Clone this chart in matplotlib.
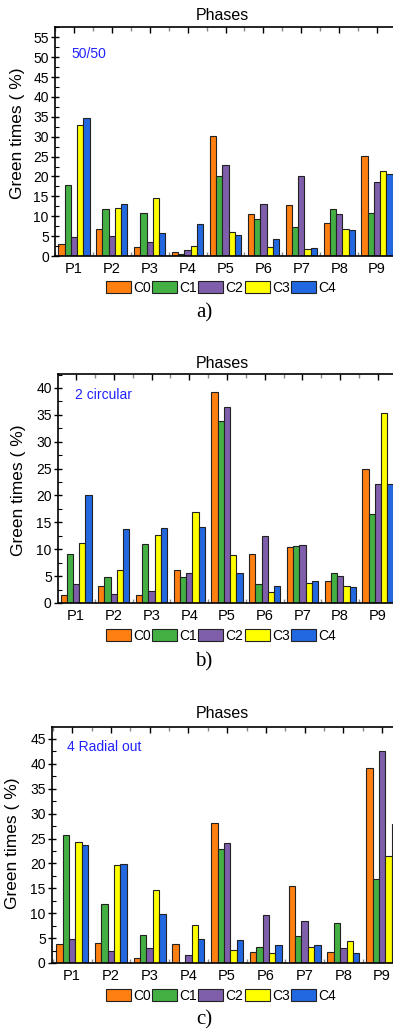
import matplotlib
matplotlib.use("Agg")
import matplotlib.pyplot as plt
import numpy as np
from matplotlib.patches import Patch
from matplotlib.ticker import MultipleLocator, FixedLocator

plt.rcParams['font.family'] = ['Liberation Sans', 'DejaVu Sans']

phases = ["P1", "P2", "P3", "P4", "P5", "P6", "P7", "P8", "P9"]
series = ["C0", "C1", "C2", "C3", "C4"]
colors = ["#ff8010", "#44b044", "#7f5fab", "#ffff00", "#2268e0"]

# green times (%) per scenario, rows = C0..C4, cols = P1..P9
a_vals = [
    [3.0, 6.8, 2.3, 1.0, 30.2, 10.5, 12.8, 8.3, 25.2],
    [17.8, 11.8, 10.8, 0.6, 20.1, 9.3, 7.3, 11.8, 10.8],
    [4.7, 5.0, 3.5, 1.6, 23.0, 13.1, 20.1, 10.5, 18.6],
    [32.9, 12.0, 14.5, 2.6, 6.0, 2.2, 1.7, 6.8, 21.5],
    [34.6, 13.0, 5.8, 8.1, 5.3, 4.3, 2.0, 6.6, 20.6],
]
b_vals = [
    [1.4, 3.1, 1.4, 6.2, 39.3, 9.1, 10.5, 4.0, 25.0],
    [9.2, 4.9, 11.0, 4.9, 33.9, 3.5, 10.6, 5.5, 16.5],
    [3.6, 1.7, 2.2, 5.6, 36.4, 12.5, 10.8, 5.0, 22.2],
    [11.2, 6.2, 12.7, 16.9, 9.0, 2.1, 3.7, 3.1, 35.3],
    [20.1, 13.7, 13.9, 14.2, 5.6, 3.2, 4.1, 3.0, 22.2],
]
c_vals = [
    [3.8, 4.1, 1.1, 3.8, 28.2, 2.2, 15.4, 2.2, 39.1],
    [25.8, 11.8, 5.7, 0.0, 22.9, 3.3, 5.4, 8.0, 16.9],
    [4.9, 2.5, 3.0, 1.7, 24.1, 9.6, 8.5, 3.0, 42.6],
    [24.3, 19.6, 14.7, 7.6, 2.6, 2.1, 3.2, 4.4, 21.4],
    [23.6, 19.9, 9.8, 4.8, 4.6, 3.7, 3.7, 2.0, 28.0],
]

W, H = 393, 1033
fig = plt.figure(figsize=(W / 100, H / 100), dpi=100)

# layout in pixels: left, top, bottom of axes, xlim, ymax, scenario text pos,
# title y, legend y, tag y, ylabel x/y
panels = [
    (a_vals, "50/50", "a)", 55, 27, 256, (0.5, 9.42), 57.6, (0.05, 0.88), 15, 288, 313, 18, 133),
    (b_vals, "2 circular", "b)", 58, 374, 603, (0.52, 9.40), 42.6, (0.05, 0.908), 363, 636, 662, 19, 490),
    (c_vals, "4 Radial out", "c)", 52, 727, 963, (0.48, 9.28), 47.4, (0.044, 0.915), 713, 996, 1020, 13, 843),
]

bw = 0.165
x = np.arange(1, 10)

for vals, name, tag, left, top, bot, xl, ymax, tpos, ty, ly, tagy, labx, laby in panels:
    ax = fig.add_axes([left / W, 1 - bot / H, (W - left) / W, (bot - top) / H])
    for i, s in enumerate(series):
        ax.bar(x + (i - 2) * bw, vals[i], width=bw, color=colors[i],
               edgecolor="#222222", linewidth=0.8)
    ax.set_xlim(*xl)
    ax.set_ylim(0, ymax)
    ax.set_xticks(x)
    ax.set_xticklabels(phases, fontsize=10.5)
    ax.xaxis.set_minor_locator(FixedLocator(np.arange(0.5, 10.5, 1)))
    ax.yaxis.set_major_locator(MultipleLocator(5))
    ax.yaxis.set_minor_locator(MultipleLocator(2.5))
    ax.tick_params(axis="y", which="major", direction="inout", length=6, width=1, labelsize=10, pad=1.5)
    ax.tick_params(axis="y", which="minor", direction="in", length=3, width=0.8)
    ax.tick_params(axis="x", which="major", direction="in", length=4, width=1,
                   top=True, bottom=False, pad=4)
    ax.tick_params(axis="x", which="minor", direction="in", length=3, width=1,
                   color="#888888", top=True, bottom=True)
    ax.spines["right"].set_visible(False)
    for sp in ("left", "top", "bottom"):
        ax.spines[sp].set_linewidth(1.2)
    fig.text(labx / W, 1 - laby / H, "Green times ( %)", rotation=90,
             ha="center", va="center", fontsize=12.5)
    ax.text(tpos[0], tpos[1], name, transform=ax.transAxes, color="#2222ff",
            fontsize=10, va="center", ha="left")
    fig.text(222 / W, 1 - ty / H, "Phases", ha="center", va="center", fontsize=11.5)
    handles = [Patch(facecolor=c, edgecolor="#222222", linewidth=0.8) for c in colors]
    fig.legend(handles, series, loc="center", bbox_to_anchor=(221 / W, 1 - ly / H),
               ncol=5, frameon=False, fontsize=10, handlelength=1.8, handleheight=0.95,
               handletextpad=0.15, columnspacing=0.1, borderpad=0)
    fig.text(204 / W, 1 - tagy / H, tag, ha="center", va="center", fontsize=15,
             family=["Liberation Serif", "DejaVu Serif"])

fig.savefig("out.png", dpi=100)
